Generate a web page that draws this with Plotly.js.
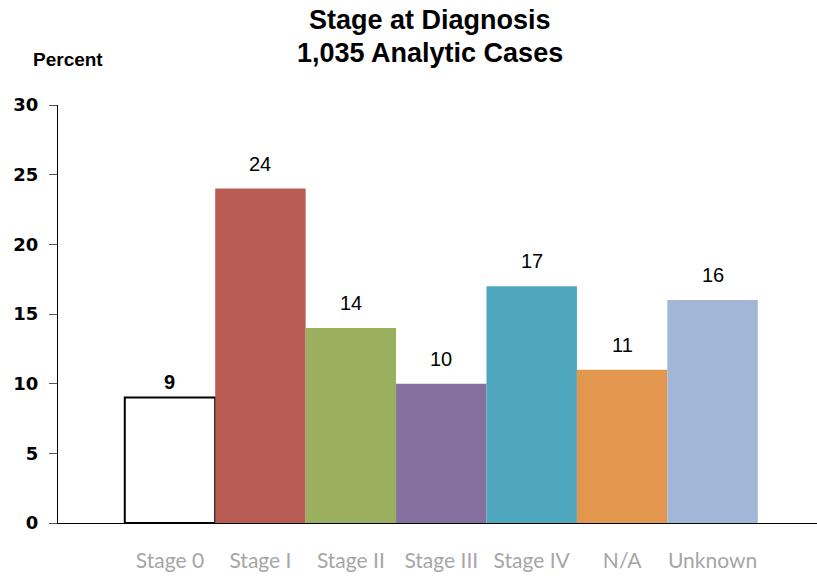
<!DOCTYPE html>
<html>
<head>
<meta charset="utf-8">
<script src="https://cdn.plot.ly/plotly-3.0.1.min.js"></script>
<style>
  html, body { margin: 0; padding: 0; background: #fff; }
  #chart { width: 817px; height: 576px; }
</style>
</head>
<body>
<div id="chart"></div>
<script>
// Stage distribution of analytic cases (percent)
const stages = ["Stage 0", "Stage I", "Stage II", "Stage III", "Stage IV", "N/A", "Unknown"];
const percents = [9, 24, 14, 10, 17, 11, 16];
const barColors = ["#ffffff", "#b95c54", "#9bb05e", "#84709e", "#4fa7bd", "#e2964e", "#a2b6d8"];
const outlineWidths = [2, 0, 0, 0, 0, 0, 0];
const yTicks = [0, 5, 10, 15, 20, 25, 30];
const titleLines = ["Stage at Diagnosis", "1,035 Analytic Cases"];

const idx = stages.map((_, i) => i);

const trace = {
  type: "bar",
  x: idx,
  y: percents,
  width: 1,
  marker: {
    color: barColors,
    line: { color: "#000000", width: outlineWidths }
  },
  hoverinfo: "skip"
};

const sansBold = "Liberation Sans, Arial, sans-serif";

// value labels above each bar; the first one is bold and sits a bit lower
const valueLabels = percents.map((v, i) => ({
  x: i, y: v, xref: "x", yref: "y",
  text: i === 0 ? "<b>" + v + "</b>" : String(v),
  showarrow: false,
  yanchor: "bottom",
  yshift: i === 0 ? 3 : 12,
  font: { family: sansBold, size: 20, color: "#000" }
}));

// two-line chart title
const titleAnns = titleLines.map((t, i) => ({
  text: "<b>" + t + "</b>",
  xref: "paper", yref: "paper",
  x: 0.4895, y: i === 0 ? 1.2033 : 1.1244,
  xanchor: "center", yanchor: "middle",
  showarrow: false,
  font: { family: sansBold, size: 27, color: "#000" }
}));

const layout = {
  width: 817,
  height: 576,
  paper_bgcolor: "#ffffff",
  plot_bgcolor: "#ffffff",
  margin: { l: 58, r: 0, t: 105, b: 53 },
  showlegend: false,
  bargap: 0,
  xaxis: {
    range: [-1.2385, 7.155],
    tickmode: "array",
    tickvals: idx,
    ticktext: stages,
    ticks: "",
    ticklabelstandoff: 19,
    showgrid: false,
    zeroline: false,
    showline: true,
    linecolor: "#000",
    linewidth: 1,
    tickfont: { family: "Lato, sans-serif", size: 21, color: "#a6a6a6" },
    fixedrange: true
  },
  yaxis: {
    range: [0, 30],
    tickmode: "array",
    tickvals: yTicks,
    ticktext: yTicks.map(String),
    ticks: "outside",
    ticklen: 8,
    tickcolor: "#555",
    tickwidth: 1,
    ticklabelstandoff: 7,
    showgrid: false,
    zeroline: false,
    showline: true,
    linecolor: "#000",
    linewidth: 1,
    tickfont: { family: "DejaVu Sans, sans-serif", size: 18, color: "#000", weight: "bold" },
    fixedrange: true
  },
  annotations: valueLabels.concat(titleAnns, [{
    text: "<b>Percent</b>",
    xref: "paper", yref: "paper",
    x: 0.0132, y: 1.1077, xanchor: "center", yanchor: "middle",
    showarrow: false,
    font: { family: sansBold, size: 19, color: "#000" }
  }])
};

Plotly.newPlot("chart", [trace], layout, { displayModeBar: false, staticPlot: true });
</script>
</body>
</html>
